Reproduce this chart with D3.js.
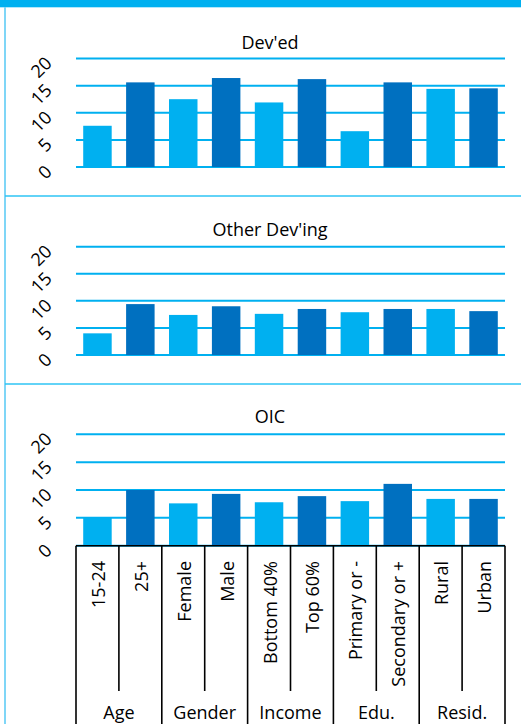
<!DOCTYPE html>
<html>
<head>
<meta charset="utf-8">
<script src="https://cdn.jsdelivr.net/npm/d3@7"></script>
<style>
  html, body { margin: 0; padding: 0; background: #fff; }
  svg { display: block; }
  text { font-family: "Open Sans", sans-serif; fill: #000; }
</style>
</head>
<body>
<svg id="chart" width="521" height="724"></svg>
<script>
// Categories along the shared x axis, and the groups they belong to
const categories = ["15-24", "25+", "Female", "Male", "Bottom 40%", "Top 60%",
                    "Primary or -", "Secondary or +", "Rural", "Urban"];
const groups = ["Age", "Gender", "Income", "Edu.", "Resid."];

// One series per panel (values in %)
const panelTitles = ["Dev'ed", "Other Dev'ing", "OIC"];
const devedValues = [7.6, 15.6, 12.5, 16.4, 11.9, 16.2, 6.6, 15.6, 14.4, 14.5];
const otherDevingValues = [4.0, 9.4, 7.4, 9.0, 7.6, 8.5, 7.9, 8.5, 8.5, 8.1];
const oicValues = [5.0, 10.0, 7.6, 9.3, 7.8, 8.9, 8.0, 11.1, 8.4, 8.4];
const yTicks = [0, 5, 10, 15, 20];

const lightBlue = "#00B0F0";
const darkBlue = "#0070C0";

const svg = d3.select("#chart");
const W = 521, H = 724;

// Frame: top band, left rule, panel separators
svg.append("rect").attr("x", 0).attr("y", 0).attr("width", W).attr("height", 7.3).attr("fill", lightBlue);
svg.append("line").attr("x1", 5).attr("x2", 5).attr("y1", 7).attr("y2", H)
  .attr("stroke", "#7fd6f7").attr("stroke-width", 2);
[196, 384].forEach(y => {
  svg.append("line").attr("x1", 5).attr("x2", W).attr("y1", y).attr("y2", y)
    .attr("stroke", "#2ec4f5").attr("stroke-width", 1.6);
});

const x = d3.scaleBand().domain(categories).range([76, 505]).paddingInner(0.336).paddingOuter(0.168);

const panels = [
  { title: panelTitles[0], values: devedValues, y0: 167, y20: 58.5, titleY: 48.5 },
  { title: panelTitles[1], values: otherDevingValues, y0: 355, y20: 246.7, titleY: 235.7 },
  { title: panelTitles[2], values: oicValues, y0: 545.7, y20: 434.3, titleY: 423.3 }
];

panels.forEach((p, pi) => {
  const y = d3.scaleLinear().domain([0, 20]).range([p.y0, p.y20]);
  const g = svg.append("g");

  // Gridlines
  g.selectAll("line.grid").data(yTicks).join("line")
    .attr("x1", 76).attr("x2", 505)
    .attr("y1", d => y(d)).attr("y2", d => y(d))
    .attr("stroke", lightBlue).attr("stroke-width", 2);

  // Tick labels, rotated
  g.selectAll("text.tick").data(yTicks).join("text")
    .attr("transform", d => `translate(48,${y(d) + 1}) rotate(-45)`)
    .attr("text-anchor", "end")
    .attr("dominant-baseline", "central")
    .attr("font-size", 18)
    .text(d => d);

  // Bars
  g.selectAll("rect.bar").data(p.values).join("rect")
    .attr("x", (d, i) => x(categories[i]))
    .attr("width", x.bandwidth())
    .attr("y", d => y(d))
    .attr("height", d => y(0) - y(d))
    .attr("fill", (d, i) => i % 2 === 0 ? lightBlue : darkBlue);

  // Panel title
  g.append("text").attr("x", 270).attr("y", p.titleY)
    .attr("text-anchor", "middle").attr("font-size", 18).text(p.title);

  // Category axis under the last panel
  if (pi === panels.length - 1) {
    const axisY = y(0);
    const step = x.step();
    g.append("line").attr("x1", 76).attr("x2", 505).attr("y1", axisY).attr("y2", axisY)
      .attr("stroke", "#000").attr("stroke-width", 1.6);
    d3.range(categories.length + 1).forEach(k => {
      const xx = 76 + k * step;
      g.append("line").attr("x1", xx).attr("x2", xx)
        .attr("y1", axisY).attr("y2", k % 2 === 0 ? H : 691)
        .attr("stroke", "#000").attr("stroke-width", 1.6);
    });
    g.selectAll("text.cat").data(categories).join("text")
      .attr("transform", d => `translate(${x(d) + x.bandwidth() / 2 + 7.5},561) rotate(-90)`)
      .attr("text-anchor", "end")
      .attr("font-size", 18)
      .text(d => d);
    g.selectAll("text.grp").data(groups).join("text")
      .attr("x", (d, i) => 76 + (2 * i + 1) * step)
      .attr("y", 719)
      .attr("text-anchor", "middle")
      .attr("font-size", 18)
      .text(d => d);
  }
});
</script>
</body>
</html>
